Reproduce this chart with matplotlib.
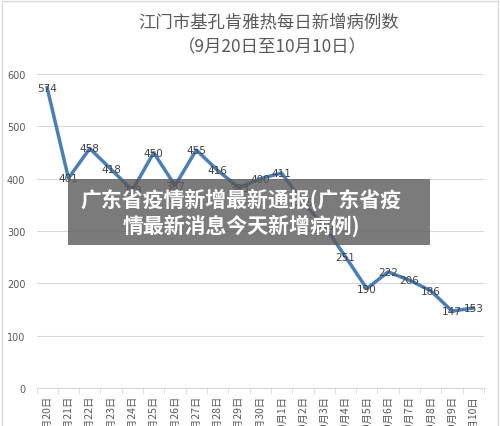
import matplotlib
matplotlib.use('Agg')
import matplotlib.pyplot as plt
from matplotlib.patches import Rectangle

plt.rcParams['font.family'] = ['Noto Sans CJK SC', 'DejaVu Sans']

# =========================
# DATA
# =========================
dates = ['9月20日', '9月21日', '9月22日', '9月23日', '9月24日', '9月25日', '9月26日',
         '9月27日', '9月28日', '9月29日', '9月30日', '10月1日', '10月2日', '10月3日',
         '10月4日', '10月5日', '10月6日', '10月7日', '10月8日', '10月9日', '10月10日']
cases = [574, 401, 458, 418, 378, 450, 387, 455, 416, 383, 400, 411,
         355, 310, 251, 190, 222, 206, 186, 147, 153]
yticks = [0, 100, 200, 300, 400, 500, 600]

title1 = '江门市基孔肯雅热每日新增病例数'
title2 = '（9月20日至10月10日）'
overlay = '广东省疫情新增最新通报(广东省疫\n情最新消息今天新增病例)'

# =========================
# PLOT
# =========================
fig = plt.figure(figsize=(5, 4.27), dpi=100)
ax = fig.add_axes([0.073, 0.089, 0.895, 0.735])

x = list(range(len(dates)))
ax.plot(x, cases, color='#4a7eb4', lw=2.5, solid_joinstyle='round', zorder=3)
for xi, v in zip(x, cases):
    ax.text(xi, v, str(v), ha='center', va='center', fontsize=7.5,
            color='#404040', family='DejaVu Sans', zorder=4)

ax.set_xlim(-0.5, len(dates) - 0.5)
ax.set_ylim(0, 600)
ax.set_yticks(yticks)
ax.set_yticklabels([str(t) for t in yticks], fontsize=7, color='#595959',
                   family='DejaVu Sans')
ax.yaxis.grid(True, color='#d9d9d9', lw=0.8)
ax.set_axisbelow(True)
ax.tick_params(axis='y', length=0, pad=8)

ax.set_xticks(x)
ax.set_xticklabels(dates, rotation=90, fontsize=7.5, color='#595959', va='top')
ax.set_xticks([i - 0.5 for i in range(len(dates) + 1)], minor=True)
ax.tick_params(axis='x', which='major', length=0, pad=5)
ax.tick_params(axis='x', which='minor', length=4, color='#d9d9d9', direction='out')

for s in ['top', 'right', 'left']:
    ax.spines[s].set_visible(False)
ax.spines['bottom'].set_color('#d9d9d9')

# title
fig.text(0.538, 0.948, title1, ha='center', va='center', fontsize=12.5, color='#595959')
fig.text(0.545, 0.889, title2, ha='center', va='center', fontsize=12.5, color='#595959')

# chart border
fig.patches.append(Rectangle((0.004, -0.01), 0.992, 1.005, transform=fig.transFigure,
                             fill=False, edgecolor='#d9d9d9', lw=1))

# overlay box
fig.patches.append(Rectangle((0.136, 0.424), 0.724, 0.155, transform=fig.transFigure,
                             facecolor='#5a5a5a', alpha=0.8, edgecolor='none', zorder=5))
fig.text(0.482, 0.502, overlay, ha='center', va='center', fontsize=15,
         color='white', fontweight='bold', linespacing=1.2, zorder=6)

fig.savefig('out.png', dpi=100)
